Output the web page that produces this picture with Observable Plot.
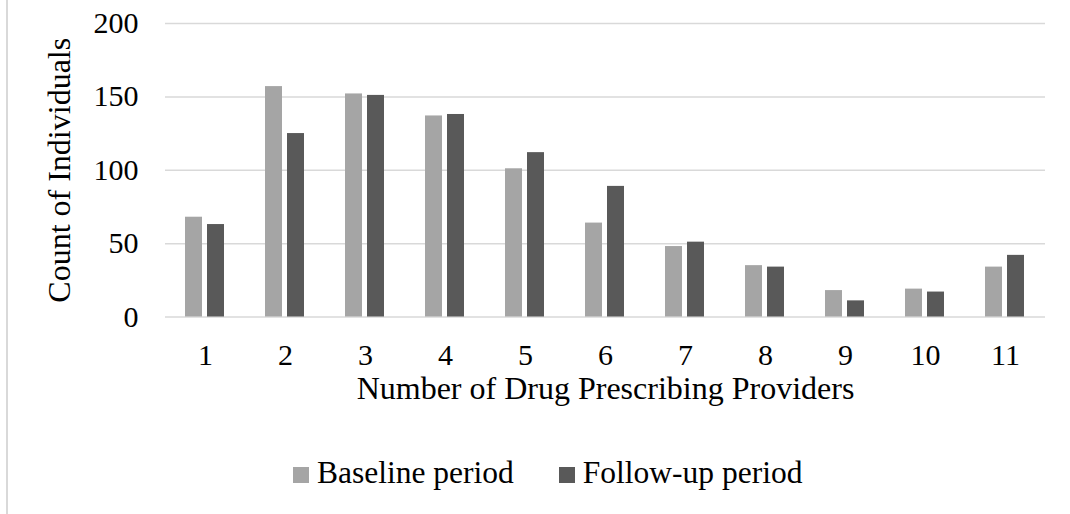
<!DOCTYPE html>
<html>
<head>
<meta charset="utf-8">
<script src="https://cdn.jsdelivr.net/npm/d3@7"></script>
<script src="https://cdn.jsdelivr.net/npm/@observablehq/plot@0.6"></script>
<style>
  body { margin: 0; background: #fff; width: 1070px; height: 514px; position: relative; overflow: hidden; }
  #frame { position: absolute; left: 6px; top: 0; width: 2px; height: 514px; background: #d9d9d9; }
  #chart { position: absolute; left: 0; top: 0; }
  #chart svg text { font-family: "Liberation Serif", "Times New Roman", serif; fill: #000; }
  #chart svg g[aria-label="y-axis tick label"] text, #chart svg g[aria-label="fx-axis tick label"] text { font-size: 30px; }
  #chart svg g[aria-label="y-axis label"] text, #chart svg g[aria-label="fx-axis label"] text { font-size: 32px; }
  #legend { position: absolute; left: 293px; top: 455px; display: flex; line-height: normal;
            font-family: "Liberation Serif", "Times New Roman", serif; font-size: 31.5px; color: #000; }
  .item { display: flex; align-items: center; margin-right: 45px; }
  .sw { width: 16px; height: 16px; margin-right: 8px; margin-top: 4px; }
</style>
</head>
<body>
<div id="frame"></div>
<div id="chart"></div>
<div id="legend"></div>
<script>
const categories = ["1","2","3","4","5","6","7","8","9","10","11"];
const seriesNames = ["Baseline period", "Follow-up period"];
const baseline = [68, 157, 152, 137, 101, 64, 48, 35, 18, 19, 34];
const followUp = [63, 125, 151, 138, 112, 89, 51, 34, 11, 17, 42];
const yTicks = [0, 50, 100, 150, 200];
const colors = ["#a5a5a5", "#595959"];

const table = [];
categories.forEach((c, i) => {
  table.push({cat: c, series: seriesNames[0], value: baseline[i]});
  table.push({cat: c, series: seriesNames[1], value: followUp[i]});
});

const chart = Plot.plot({
  width: 1070,
  height: 420,
  marginTop: 23,
  marginBottom: 103.5,
  marginLeft: 160,
  marginRight: 20,
  style: {fontFamily: "Liberation Serif, Times New Roman, serif", fontSize: "30px", color: "#000", background: "transparent"},
  facet: {data: table, x: "cat", marginBottom: 103.5},
  fx: {domain: categories, paddingInner: 0, paddingOuter: 0, axis: "bottom", tickSize: 0, tickPadding: 27,
       label: "Number of Drug Prescribing Providers", labelAnchor: "center", labelOffset: 82, labelArrow: false},
  x: {domain: seriesNames, paddingInner: 0.217, paddingOuter: 0.87, axis: null},
  y: {domain: [0, 200], ticks: yTicks, tickSize: 0, tickPadding: 27, label: "Count of Individuals",
      labelAnchor: "center", labelOffset: 118, labelArrow: false},
  color: {domain: seriesNames, range: colors},
  marks: [
    Plot.ruleY(yTicks, {stroke: "#d9d9d9", strokeWidth: 1.5}),
    Plot.barY(table, {x: "series", y: "value", fill: "series"})
  ]
});
document.getElementById("chart").appendChild(chart);

const legend = document.getElementById("legend");
seriesNames.forEach((s, i) => {
  const it = document.createElement("div");
  it.className = "item";
  const sw = document.createElement("div");
  sw.className = "sw";
  sw.style.background = colors[i];
  const t = document.createElement("span");
  t.textContent = s;
  it.appendChild(sw); it.appendChild(t);
  legend.appendChild(it);
});
</script>
</body>
</html>
